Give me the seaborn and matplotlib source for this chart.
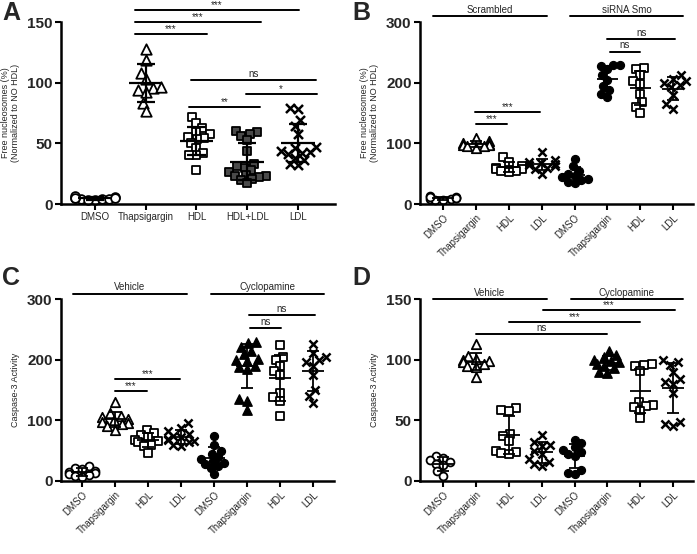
import warnings
warnings.filterwarnings('ignore')
import numpy as np
import pandas as pd
import matplotlib
matplotlib.use('Agg')
import matplotlib.pyplot as plt
import seaborn as sns

sns.set_theme(style='ticks')
plt.rcParams['font.family'] = ['Liberation Sans', 'DejaVu Sans']

# ---------------- data ----------------
# Panel A
a_labels = ['DMSO', 'Thapsigargin', 'HDL', 'HDL+LDL', 'LDL']
a_dmso = [3, 4, 4, 5, 6, 7, 5, 4, 3, 5]
a_thaps = [127.5, 119, 108, 103, 96, 94, 92.6, 96.7, 83, 77]
a_hdl = [71.5, 67, 63, 59.6, 57.7, 55, 54, 53.3, 50, 46, 42, 40, 40, 28]
a_hdlldl = [60, 59, 58, 56, 53, 44, 33, 31, 30, 28, 26, 24, 23, 23, 22, 21, 20, 17]
a_ldl = [79, 78, 69, 64, 58, 47, 46, 44, 43, 42, 41, 38, 36, 33, 32]

# Panel B
b_labels = ['DMSO', 'Thapsigargin', 'HDL', 'LDL', 'DMSO', 'Thapsigargin', 'HDL', 'LDL']
b_scr_dmso = [6, 8, 10, 12, 14, 10, 9, 7, 11]
b_scr_thaps = [108, 104, 101, 99, 98, 97, 96, 95, 93]
b_scr_hdl = [78, 70, 62, 60, 58, 57, 55, 54, 53]
b_scr_ldl = [85, 72, 70, 68, 66, 64, 62, 60, 58, 50]
b_smo_dmso = [75, 62, 55, 50, 46, 44, 42, 40, 37, 34]
b_smo_thaps = [229, 229, 228, 222, 212, 205, 194, 188, 182, 177]
b_smo_hdl = [225, 223, 213, 202, 198, 182, 168, 160, 150]
b_smo_ldl = [212, 206, 203, 200, 196, 193, 180, 165, 157]

# Panel C
c_labels = ['DMSO', 'Thapsigargin', 'HDL', 'LDL', 'DMSO', 'Thapsigargin', 'HDL', 'LDL']
c_veh_dmso = [25, 22, 19, 17, 15, 13, 12, 10, 8, 7]
c_veh_thaps = [130, 112, 108, 105, 102, 100, 98, 96, 94, 90, 85]
c_veh_hdl = [85, 80, 76, 72, 68, 66, 64, 60, 57, 47]
c_veh_ldl = [95, 88, 82, 78, 75, 72, 70, 68, 66, 64, 60, 58]
c_cyc_dmso = [75, 60, 50, 45, 40, 36, 33, 30, 28, 25, 22, 12]
c_cyc_thaps = [230, 228, 222, 215, 210, 202, 200, 198, 190, 188, 185, 135, 132, 117]
c_cyc_hdl = [224, 205, 200, 190, 182, 175, 145, 138, 132, 108]
c_cyc_ldl = [226, 212, 205, 200, 197, 190, 175, 150, 140, 128]

# Panel D
d_labels = ['DMSO', 'Thapsigargin', 'HDL', 'LDL', 'DMSO', 'Thapsigargin', 'HDL', 'LDL']
d_veh_dmso = [21, 19, 17, 16, 14, 13, 8, 4]
d_veh_thaps = [113, 103, 101, 100, 99, 98, 97, 95, 94, 86]
d_veh_hdl = [60, 59, 58, 39, 37, 33, 25, 24, 23, 22]
d_veh_ldl = [38, 32, 30, 29, 25, 22, 18, 16, 14, 12]
d_cyc_dmso = [34, 31, 28, 26, 24, 22, 21, 9, 7, 6]
d_cyc_thaps = [107, 104, 102, 100, 99, 98, 97, 95, 93, 90, 89]
d_cyc_hdl = [97, 96, 95, 91, 65, 63, 62, 61, 58, 52]
d_cyc_ldl = [100, 98, 96, 90, 84, 82, 80, 73, 49, 47, 45]

# significance annotations: (x1, x2, y, text)
a_sig = [(0.79, 4.02, 160, '***'), (0.79, 3.27, 150, '***'), (0.79, 2.2, 140, '***'),
         (1.89, 4.35, 102, 'ns'), (2.97, 4.37, 91, '*'), (1.85, 3.25, 80, '**')]
b_sig = [(-0.3, 3.16, 310, 'Scrambled'), (3.86, 7.3, 310, 'siRNA Smo'),
         (0.97, 2.95, 152, '***'), (1.0, 1.95, 132, '***'),
         (5.0, 7.05, 272, 'ns'), (5.07, 6.0, 251, 'ns')]
c_sig = [(-0.27, 3.18, 309, 'Vehicle'), (3.9, 7.33, 309, 'Cyclopamine'),
         (1.0, 2.97, 169, '***'), (1.0, 1.97, 149, '***'),
         (5.06, 7.06, 274, 'ns'), (5.09, 6.03, 252, 'ns')]
d_sig = [(-0.3, 3.16, 150, 'Vehicle'), (3.88, 7.3, 150, 'Cyclopamine'),
         (3.04, 7.05, 141, '***'), (2.0, 6.0, 131.5, '***'), (1.0, 5.0, 121, 'ns')]

# ---------------- styles ----------------
OPEN_O = dict(marker='o', color='white', edgecolor='black', linewidth=1.3)
OPEN_T = dict(marker='^', color='white', edgecolor='black', linewidth=1.3)
OPEN_S = dict(marker='s', color='white', edgecolor='black', linewidth=1.3)
HATCH_S = dict(marker='s', color='#4a4a4a', edgecolor='black', linewidth=1.3)
XMARK = dict(marker='x', color='black', edgecolor='black', linewidth=1.8)
FILL_O = dict(marker='o', color='black', edgecolor='black', linewidth=1.0)
FILL_T = dict(marker='^', color='black', edgecolor='black', linewidth=1.0)

fig = plt.figure(figsize=(6.97, 5.54), dpi=100)
W, H = 697, 554
final_sizes = []  # (collection, marker size in points)


def make_ax(l, r, b, t):
    return fig.add_axes([l / W, (H - b) / H, (r - l) / W, (b - t) / H])


def panel(ax, labels, groups, styles, sizes, ylim, yticks, xlim, ylabel, sig,
          rot, errlw, marker_scale, spread):
    keys = [f'g{i}' for i in range(len(labels))]
    for i, (vals, st, sz) in enumerate(zip(groups, styles, sizes)):
        df = pd.DataFrame({'g': [keys[i]] * len(vals), 'v': vals})
        n0 = len(ax.collections)
        sns.swarmplot(data=df, x='g', y='v', order=keys, ax=ax,
                      size=sz * spread, zorder=2, **st)
        for c in ax.collections[n0:]:
            final_sizes.append((c, sz * marker_scale))
            c.set_clip_on(False)
    for i, vals in enumerate(groups):
        v = np.asarray(vals, float)
        m, sd = v.mean(), v.std(ddof=1)
        ax.hlines(m, i - 0.33, i + 0.33, color='black', lw=errlw, zorder=4)
        ax.vlines(i, m - sd, m + sd, color='black', lw=errlw, zorder=4)
        ax.hlines([m - sd, m + sd], i - 0.18, i + 0.18, color='black', lw=errlw, zorder=4)
    ax.set_xlim(*xlim)
    ax.set_ylim(*ylim)
    ax.set_yticks(yticks)
    ax.set_yticklabels([str(t) for t in yticks], fontsize=11, fontweight='bold')
    ax.set_xticks(range(len(labels)))
    if rot:
        ax.set_xticklabels(labels, fontsize=7, rotation=45, ha='right',
                           rotation_mode='anchor')
    else:
        ax.set_xticklabels(labels, fontsize=7)
    ax.set_xlabel('')
    ax.set_ylabel(ylabel, fontsize=6.5, labelpad=5)
    for s in ['top', 'right']:
        ax.spines[s].set_visible(False)
    for s in ['left', 'bottom']:
        ax.spines[s].set_linewidth(1.8)
        ax.spines[s].set_color('black')
    ax.tick_params(axis='both', direction='out', length=4, width=1.5, color='black',
                   pad=2)
    ax.set_facecolor('none')
    for x1, x2, y, txt in sig:
        ax.plot([x1, x2], [y, y], color='black', lw=1.4, clip_on=False, zorder=5)
        off = 0 if '*' in txt else 1
        ax.annotate(txt, xy=((x1 + x2) / 2, y), xytext=(0, off),
                    textcoords='offset points', ha='center', va='bottom',
                    fontsize=7, annotation_clip=False)


axA = make_ax(61, 335, 204, 22)
panel(axA, a_labels, [a_dmso, a_thaps, a_hdl, a_hdlldl, a_ldl],
      [OPEN_O, OPEN_T, OPEN_S, HATCH_S, XMARK], [6.3, 7.5, 6.2, 6.2, 6.5],
      (0, 150), [0, 50, 100, 150], (-0.67, 4.73),
      'Free nucleosomes (%)\n(Normalized to NO HDL)', a_sig, False, 1.6, 1.0, 0.58)

axB = make_ax(420, 693, 204, 22)
panel(axB, b_labels, [b_scr_dmso, b_scr_thaps, b_scr_hdl, b_scr_ldl,
                      b_smo_dmso, b_smo_thaps, b_smo_hdl, b_smo_ldl],
      [OPEN_O, OPEN_T, OPEN_S, XMARK, FILL_O, FILL_O, OPEN_S, XMARK],
      [6.3, 7.5, 6.2, 6.5, 6.3, 6.3, 6.2, 6.5],
      (0, 300), [0, 100, 200, 300], (-0.7, 7.6),
      'Free nucleosomes (%)\n(Normalized to NO HDL)', b_sig, True, 1.3, 0.9, 0.62)

axC = make_ax(61, 334, 481, 299.3)
panel(axC, c_labels, [c_veh_dmso, c_veh_thaps, c_veh_hdl, c_veh_ldl,
                      c_cyc_dmso, c_cyc_thaps, c_cyc_hdl, c_cyc_ldl],
      [OPEN_O, OPEN_T, OPEN_S, XMARK, FILL_O, FILL_T, OPEN_S, XMARK],
      [6.3, 7.5, 6.2, 6.5, 6.3, 7.5, 6.2, 6.5],
      (0, 300), [0, 100, 200, 300], (-0.64, 7.64),
      'Caspase-3 Activity', c_sig, True, 1.3, 0.9, 0.62)

axD = make_ax(420, 693, 481, 299.3)
panel(axD, d_labels, [d_veh_dmso, d_veh_thaps, d_veh_hdl, d_veh_ldl,
                      d_cyc_dmso, d_cyc_thaps, d_cyc_hdl, d_cyc_ldl],
      [OPEN_O, OPEN_T, OPEN_S, XMARK, FILL_O, FILL_T, OPEN_S, XMARK],
      [6.3, 7.5, 6.2, 6.5, 6.3, 7.5, 6.2, 6.5],
      (0, 150), [0, 50, 100, 150], (-0.7, 7.6),
      'Caspase-3 Activity', d_sig, True, 1.3, 0.9, 0.62)

for txt, x, y in [('A', 2, 1), ('B', 352, 1), ('C', 2, 266), ('D', 352, 266)]:
    fig.text(x / W, 1 - y / H, txt, fontsize=18, fontweight='bold', ha='left', va='top')

# compute the swarm layout with the smaller spacing size, then freeze it
fig.canvas.draw()
for c, sz in final_sizes:
    if 'draw' in c.__dict__:
        del c.draw
    c.set_sizes([sz ** 2])

fig.savefig('out.png', dpi=100)
